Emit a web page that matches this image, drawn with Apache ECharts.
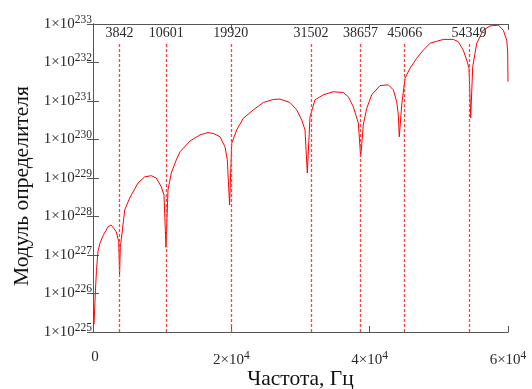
<!DOCTYPE html>
<html>
<head>
<meta charset="utf-8">
<script src="https://cdn.jsdelivr.net/npm/echarts@6/dist/echarts.min.js"></script>
<style>html,body{margin:0;padding:0;background:#fff}#c{width:532px;height:389px}</style>
</head>
<body>
<div id="c"></div>
<script>
// Frequency, Hz
const freq = [150, 333, 500, 723, 1000, 1446, 2169, 2600, 2892, 3369, 3716, 3842,
  3950, 4092, 4583, 5306, 6506, 7475, 8429, 9152, 9875, 10265, 10550,
  10844, 11321, 12044, 12578, 14024, 15470, 16627, 17494, 18362, 19085, 19417, 19750,
  20054, 20777, 21731, 23177, 24623, 26069, 27037, 28483, 29451, 30174, 30651, 30984,
  31374, 32097, 33297, 34743, 36189, 36912, 37635, 38358, 38705,
  39080, 39572, 40295, 41495, 42695, 43418, 43910, 44141, 44286,
  44633, 45110, 45833, 46802, 47756, 48723, 49692, 50646, 52092, 52815, 53538, 54030, 54362, 54608,
  54897, 55476, 56430, 57399, 58599, 59322, 59814, 59950, 60000];
// log10 of determinant modulus
const logModulus = [225.2, 226.0, 226.6, 227.1, 227.3, 227.5, 227.73, 227.78, 227.72, 227.6, 227.35, 226.5,
  227.2, 227.4, 228.17, 228.48, 228.87, 229.03, 229.06, 229.0, 228.77, 228.56, 227.2,
  228.69, 229.13, 229.47, 229.68, 229.96, 230.12, 230.18, 230.15, 230.07, 229.81, 229.47, 228.3,
  229.9, 230.25, 230.55, 230.77, 230.96, 231.04, 231.05, 230.96, 230.77, 230.51, 230.25, 229.13,
  230.59, 231.03, 231.16, 231.24, 231.22, 231.11, 230.85, 230.43, 229.55,
  230.38, 230.81, 231.16, 231.4, 231.42, 231.29, 230.98, 230.64, 230.07,
  230.9, 231.59, 231.85, 232.11, 232.32, 232.5, 232.55, 232.6, 232.6, 232.54, 232.32, 232.06, 231.85, 230.56,
  231.89, 232.5, 232.84, 232.95, 232.97, 232.84, 232.58, 232.3, 231.5];
// Marked resonance frequencies
const markFreqs = [3842, 10601, 19920, 31502, 38657, 45066, 54349];
// Axis range (exponents of 10) and x ticks
const yExpMin = 225, yExpMax = 233;
const xMin = 0, xMax = 60000, xStep = 20000;

const serif = "'Liberation Serif', 'Times New Roman', serif";
const chart = echarts.init(document.getElementById('c'));
const axisCol = '#555';
const txtCol = '#2a2a2a';
const rich = {
  b: {fontFamily: serif, fontSize: 15, color: txtCol},
  s: {fontFamily: serif, fontSize: 11.5, color: txtCol, padding: [0, 0, 9, 0]}
};
chart.setOption({
  animation: false,
  grid: {left: 93, right: 24, top: 24, bottom: 57, containLabel: false, outerBoundsMode: 'none'},
  xAxis: [{
    type: 'value', min: xMin, max: xMax, interval: xStep,
    name: 'Частота, Гц', nameLocation: 'middle', nameGap: 36, nameMoveOverlap: false,
    nameTextStyle: {fontFamily: serif, fontSize: 21.5, color: '#111'},
    axisLine: {show: true, lineStyle: {color: axisCol, width: 1}},
    axisTick: {show: true, inside: true, length: 6, lineStyle: {color: axisCol}},
    splitLine: {show: false},
    axisLabel: {margin: 18, rich: rich,
      formatter: v => v === 0 ? '{b| 0}' : '{b|' + (v / 10000) + '×10}{s|4}'}
  }, {
    type: 'value', position: 'top', min: xMin, max: xMax, interval: xStep,
    axisLine: {show: true, lineStyle: {color: axisCol, width: 1}},
    axisTick: {show: true, inside: true, length: 6, lineStyle: {color: axisCol}},
    axisLabel: {show: false}, splitLine: {show: false}
  }],
  yAxis: [{
    type: 'value', min: yExpMin, max: yExpMax, interval: 1,
    name: 'Модуль определителя', nameLocation: 'middle', nameGap: 60,
    nameTextStyle: {fontFamily: serif, fontSize: 21.5, color: '#111', padding: [0, 0, 0, -16]},
    axisLine: {show: true, lineStyle: {color: axisCol, width: 1}},
    axisTick: {show: true, inside: true, length: 6, lineStyle: {color: axisCol}},
    splitLine: {show: false},
    axisLabel: {margin: 1, rich: rich, formatter: v => '{b|1×10}{s|' + v + '}'}
  }, {
    type: 'value', position: 'right', min: yExpMin, max: yExpMax, interval: 1,
    axisLine: {show: true, lineStyle: {color: axisCol, width: 1}},
    axisTick: {show: true, inside: true, length: 6, lineStyle: {color: axisCol}},
    axisLabel: {show: false}, splitLine: {show: false}
  }],
  series: [{
    type: 'line',
    data: freq.map((f, i) => [f, logModulus[i]]),
    showSymbol: false, symbol: 'none',
    lineStyle: {color: '#ff0000', width: 1},
    markLine: {
      silent: true, symbol: ['none', 'none'],
      lineStyle: {color: '#ff4040', type: [3, 2], width: 1.3},
      label: {show: true, position: 'end', distance: 2, fontFamily: serif, fontSize: 14, color: txtCol},
      data: markFreqs.map(f => [
        {coord: [f, yExpMin], label: {formatter: String(f)}},
        {coord: [f, 232.52]}
      ])
    }
  }]
});
</script>
</body>
</html>
